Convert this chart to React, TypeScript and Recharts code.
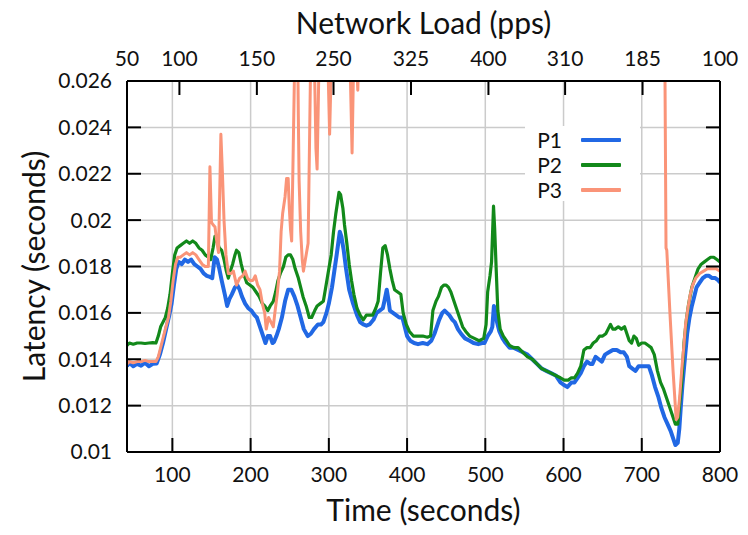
import { LineChart, Line, XAxis, YAxis, CartesianGrid, Legend } from 'recharts'

// [time (s), latency (s)]
const p1Latency: [number, number][] = [
  [42, 0.0137], [45, 0.01385], [50, 0.0137], [55, 0.0138], [60, 0.01372], [65, 0.01385], [70, 0.0137], [75, 0.0138],
  [80, 0.01382], [84, 0.0142], [88, 0.0147], [92, 0.0153], [96, 0.0159], [99, 0.0164], [102, 0.0172], [105, 0.0179],
  [108, 0.0182], [112, 0.0181], [116, 0.0183], [120, 0.0182], [124, 0.0183], [128, 0.0181], [132, 0.018], [136, 0.0179],
  [140, 0.0177], [144, 0.0176], [148, 0.01755], [151, 0.0175], [154, 0.0184], [157, 0.0183], [160, 0.0179], [163, 0.0174],
  [167, 0.0168], [170, 0.0163], [173, 0.0166], [176, 0.0168], [180, 0.0171], [183, 0.0172], [186, 0.017], [189, 0.0167],
  [193, 0.0164], [197, 0.0162], [201, 0.0161], [205, 0.0159], [208, 0.0158], [212, 0.0154], [216, 0.015], [219, 0.0147],
  [222, 0.015], [225, 0.015], [228, 0.0147], [230, 0.01475], [233, 0.015], [236, 0.0153], [240, 0.0158], [244, 0.0165],
  [248, 0.017], [252, 0.017], [256, 0.0167], [260, 0.0163], [264, 0.0158], [268, 0.0153], [273, 0.015], [277, 0.0151],
  [281, 0.0153], [286, 0.0155], [290, 0.0155], [293, 0.0156], [297, 0.016], [300, 0.0164], [304, 0.0171], [307, 0.0178],
  [310, 0.0185], [314, 0.0195], [316, 0.0193], [319, 0.0187], [322, 0.0179], [326, 0.017], [331, 0.0164], [336, 0.0159],
  [340, 0.0156], [344, 0.0155], [348, 0.01545], [352, 0.0155], [357, 0.0157], [361, 0.016], [365, 0.0161], [369, 0.0162],
  [371, 0.0165], [374, 0.017], [376, 0.0166], [378, 0.0161], [382, 0.016], [386, 0.0159], [390, 0.0158], [394, 0.0158],
  [397, 0.0154], [400, 0.015], [404, 0.0148], [409, 0.0147], [414, 0.01465], [420, 0.0147], [426, 0.01465], [431, 0.0148],
  [435, 0.0151], [438, 0.0154], [441, 0.0157], [445, 0.016], [448, 0.0161], [451, 0.016], [454, 0.0159], [458, 0.0157],
  [461, 0.0156], [465, 0.0153], [469, 0.0151], [474, 0.0149], [480, 0.0148], [485, 0.0147], [491, 0.01465], [496, 0.0147],
  [499, 0.0147], [503, 0.015], [507, 0.0152], [509, 0.0154], [511, 0.0163], [513, 0.016], [515, 0.0156], [518, 0.0152],
  [522, 0.0149], [526, 0.0147], [531, 0.0145], [536, 0.0145], [542, 0.0144], [548, 0.0143], [554, 0.0142], [560, 0.014],
  [566, 0.0138], [572, 0.0136], [578, 0.0135], [584, 0.0134], [590, 0.0133], [596, 0.013], [600, 0.0129], [605, 0.0128],
  [610, 0.013], [614, 0.013], [618, 0.0132], [622, 0.0134], [626, 0.0137], [630, 0.0139], [634, 0.0138], [637, 0.0138],
  [641, 0.0141], [645, 0.014], [649, 0.0139], [653, 0.0142], [658, 0.0143], [663, 0.0144], [668, 0.0144], [673, 0.0143],
  [677, 0.0143], [681, 0.0141], [684, 0.0137], [688, 0.0136], [692, 0.0135], [696, 0.0137], [700, 0.0137], [705, 0.0137],
  [709, 0.0137], [713, 0.0133], [717, 0.0128], [721, 0.0124], [725, 0.0119], [729, 0.0115], [733, 0.0112], [737, 0.0109],
  [740, 0.0106], [743, 0.0103], [746, 0.0104], [748, 0.011], [750, 0.012], [752, 0.0129], [755, 0.014], [758, 0.0151],
  [761, 0.0158], [764, 0.0163], [767, 0.0167], [770, 0.0171], [774, 0.0173], [778, 0.0175], [782, 0.0176], [786, 0.0176],
  [790, 0.0175], [794, 0.0175], [798, 0.0174], [800, 0.0173],
]

const p2Latency: [number, number][] = [
  [42, 0.0146], [45, 0.0147], [50, 0.01465], [55, 0.0147], [60, 0.0147], [65, 0.01468], [70, 0.0147], [75, 0.01472],
  [79, 0.0147], [82, 0.015], [85, 0.0154], [88, 0.0156], [91, 0.0158], [94, 0.0162], [97, 0.0168], [100, 0.0177],
  [103, 0.0185], [106, 0.0188], [110, 0.0189], [114, 0.019], [118, 0.0191], [122, 0.019], [126, 0.0191], [130, 0.019],
  [134, 0.0188], [138, 0.0187], [142, 0.0185], [146, 0.0184], [149, 0.0183], [152, 0.0188], [154.5, 0.0193], [157, 0.0191],
  [160, 0.0188], [163, 0.0187], [166, 0.0183], [169, 0.0178], [171.5, 0.0175], [174, 0.0178], [177, 0.0181], [180, 0.0185],
  [182, 0.0187], [185, 0.0186], [188, 0.0181], [191, 0.0177], [195, 0.0173], [199, 0.0172], [203, 0.0171], [207, 0.0169],
  [211, 0.0167], [215, 0.0164], [218, 0.0163], [222, 0.0161], [225, 0.0163], [229, 0.0165], [232, 0.0169], [235, 0.0174],
  [238, 0.0177], [242, 0.018], [245, 0.0184], [248, 0.0185], [251, 0.0185], [254, 0.0183], [257, 0.0179], [261, 0.0175],
  [264, 0.0171], [267, 0.0167], [271, 0.0163], [275, 0.0158], [278, 0.0158], [282, 0.0161], [285, 0.0163], [289, 0.0164],
  [293, 0.0165], [297, 0.0173], [300, 0.0179], [303, 0.0185], [306, 0.0195], [309, 0.0203], [313, 0.0212], [315, 0.0211],
  [318, 0.0205], [320, 0.0198], [323, 0.019], [326, 0.0181], [329, 0.0174], [332, 0.0168], [336, 0.0162], [340, 0.0159],
  [344, 0.0157], [348, 0.0159], [352, 0.0159], [356, 0.0159], [360, 0.0162], [363, 0.0165], [366, 0.0177], [369, 0.0188],
  [372, 0.0189], [375, 0.0185], [378, 0.0179], [381, 0.0174], [384, 0.017], [388, 0.0169], [392, 0.0168], [395, 0.016],
  [399, 0.0155], [403, 0.0152], [408, 0.015], [414, 0.015], [420, 0.015], [426, 0.01495], [430, 0.015], [433, 0.0161],
  [437, 0.0165], [440, 0.0167], [444, 0.0171], [447, 0.0172], [450, 0.0172], [453, 0.0171], [456, 0.0169], [459, 0.0166],
  [463, 0.0162], [467, 0.0158], [471, 0.0154], [475, 0.0152], [480, 0.015], [486, 0.0149], [492, 0.0148], [498, 0.0149],
  [501, 0.0155], [503, 0.0169], [506, 0.0176], [508, 0.0182], [510.5, 0.0206], [512, 0.0196], [514, 0.0178], [516, 0.0161],
  [519, 0.0153], [523, 0.015], [527, 0.0148], [531, 0.0146], [536, 0.0145], [542, 0.0145], [548, 0.0143], [554, 0.0141],
  [560, 0.014], [566, 0.0138], [572, 0.0136], [578, 0.0135], [584, 0.0134], [590, 0.0133], [596, 0.0132], [601, 0.0131],
  [606, 0.0131], [610, 0.0132], [614, 0.0132], [618, 0.0134], [622, 0.0137], [626, 0.0144], [630, 0.0145], [634, 0.0145],
  [638, 0.0147], [642, 0.0148], [646, 0.015], [650, 0.015], [654, 0.0151], [657, 0.0153], [660, 0.0155], [663, 0.0153],
  [666, 0.0153], [670, 0.0154], [674, 0.0153], [678, 0.0154], [681, 0.0151], [684, 0.0148], [687, 0.0147], [690, 0.015],
  [693, 0.0149], [696, 0.0146], [700, 0.0147], [704, 0.0147], [708, 0.0146], [712, 0.0145], [716, 0.0142], [720, 0.0135],
  [724, 0.013], [728, 0.0127], [732, 0.0123], [736, 0.0119], [740, 0.0115], [743, 0.0112], [746, 0.0112], [748, 0.0119],
  [751, 0.013], [754, 0.0147], [757, 0.0157], [760, 0.0164], [764, 0.0171], [768, 0.0175], [772, 0.0179], [776, 0.0181],
  [780, 0.0182], [784, 0.0183], [788, 0.0184], [792, 0.0184], [796, 0.0183], [800, 0.0182],
]

// P3 runs above the top of the plot for most of 290-730 s
const p3Latency: [number, number][] = [
  [42, 0.0138], [45, 0.0139], [50, 0.01385], [55, 0.0139], [60, 0.0139], [65, 0.01395], [70, 0.0139], [75, 0.0139],
  [79, 0.0139], [82, 0.0141], [85, 0.0145], [88, 0.0149], [91, 0.0153], [95, 0.0158], [98, 0.0165], [101, 0.0174],
  [104, 0.0181], [107, 0.0184], [110, 0.0184], [114, 0.0185], [118, 0.0186], [122, 0.0185], [126, 0.0186], [130, 0.0185],
  [134, 0.0183], [138, 0.0181], [142, 0.018], [146, 0.018], [148, 0.0223], [150, 0.0199], [152, 0.0198], [154.5, 0.0197],
  [157, 0.019], [159, 0.0186], [162, 0.0237], [164, 0.022], [166, 0.02], [168.5, 0.0185], [171.5, 0.0177], [175, 0.0177],
  [178, 0.0178], [182, 0.0172], [186, 0.0175], [190, 0.0176], [193, 0.0178], [196, 0.0175], [199, 0.0174], [203, 0.0174],
  [206, 0.0176], [209, 0.0172], [212, 0.017], [215, 0.0164], [218, 0.016], [220, 0.0153], [223, 0.0158], [226, 0.0156],
  [229, 0.0154], [231, 0.016], [234, 0.0168], [237, 0.0178], [239, 0.0195], [241, 0.0203], [244, 0.021], [246, 0.0218],
  [248, 0.0218], [249.5, 0.0205], [251, 0.0196], [252.5, 0.0191], [254.5, 0.0231], [256, 0.0262], [258, 0.028],
  [260, 0.028], [261, 0.0245], [262, 0.0217], [264, 0.0195], [266, 0.0183], [267.5, 0.0178], [270, 0.0183],
  [273.5, 0.019], [275.5, 0.0238], [277, 0.0275], [280, 0.028], [282, 0.026], [283.5, 0.0231], [285, 0.0222],
  [286.5, 0.025], [288, 0.028], [291, 0.03], [295, 0.03], [299, 0.0265], [301, 0.0237], [303, 0.0265], [306, 0.03],
  [312, 0.03], [318, 0.03], [324, 0.03], [327, 0.027], [329.7, 0.0229], [331.5, 0.0265], [334, 0.028], [337, 0.0256],
  [339, 0.028], [345, 0.03], [400, 0.03], [500, 0.03], [600, 0.03], [700, 0.03], [729, 0.03], [731, 0.0188],
  [732, 0.0187], [736, 0.016], [740, 0.0135], [744, 0.0114], [746, 0.0115], [748.5, 0.0124], [751, 0.0135],
  [753.6, 0.0145], [756, 0.0155], [759, 0.0162], [762, 0.0168], [765, 0.0172], [769, 0.0175], [774, 0.0177],
  [779, 0.0178], [784, 0.0179], [790, 0.0179], [795, 0.0179], [800, 0.0178],
]

const timeTicks = [100, 200, 300, 400, 500, 600, 700, 800]
const latencyTicks = [0.01, 0.012, 0.014, 0.016, 0.018, 0.02, 0.022, 0.024, 0.026]
// the network-load axis on top sits at these times
const loadTickTimes = [42, 109, 208, 306, 405, 504, 602, 701, 800]
const loadTickLabels = ['50', '100', '150', '250', '325', '400', '310', '185', '100']

const series = [
  { name: 'P1', color: '#2168e4', width: 4, points: p1Latency },
  { name: 'P2', color: '#12891a', width: 3.2, points: p2Latency },
  { name: 'P3', color: '#fa9478', width: 3, points: p3Latency },
]

const toRows = (pts: [number, number][]) => pts.map(([t, v]) => ({ t, v }))
const fmtLatency = (v: number) => String(Number(v.toFixed(3)))
const fmtLoad = (v: number) => loadTickLabels[loadTickTimes.indexOf(v)] ?? ''

const ink = '#111'
const tickFont = { fill: ink, fontSize: 21 }
const axisStroke = { stroke: '#000', strokeWidth: 2 }

function KeyBox() {
  return (
    <div style={{ background: '#fff', width: 115, height: 75, paddingTop: 1, boxSizing: 'border-box' }}>
      {series.map(s => (
        <div key={s.name} style={{ display: 'flex', alignItems: 'center', height: 25 }}>
          <span style={{ width: 37, textAlign: 'right', fontSize: 21, lineHeight: '21px', color: ink }}>{s.name}</span>
          <span style={{ width: 40, height: 4, marginLeft: 19, background: s.color, borderRadius: 1 }} />
        </div>
      ))}
    </div>
  )
}

export default function App() {
  return (
    <div style={{ width: 748, height: 535, fontFamily: 'Lato, sans-serif', background: '#fff' }}>
      <style>{'body { margin: 0; }'}</style>
      <LineChart width={748} height={535} margin={{ top: 0, right: 0, bottom: 0, left: 0 }}>
        <CartesianGrid xAxisId="bottom" yAxisId="left" stroke="#cbcbcb" strokeWidth={1.5} />

        <XAxis
          xAxisId="bottom" dataKey="t" type="number" domain={[42, 800]} ticks={timeTicks}
          allowDataOverflow interval={0} height={83}
          tickSize={-14} tickMargin={29} tick={tickFont} tickLine={axisStroke} axisLine={axisStroke}
          label={{ value: 'Time (seconds)', position: 'insideBottom', offset: 14, fontSize: 30, fill: ink }}
        />
        <XAxis
          xAxisId="top" orientation="top" dataKey="t" type="number" domain={[42, 800]} ticks={loadTickTimes}
          allowDataOverflow interval={0} height={81} tickFormatter={fmtLoad}
          tickSize={-14} tickMargin={29} tick={tickFont} tickLine={axisStroke} axisLine={axisStroke}
          label={{ value: 'Network Load (pps)', position: 'insideTop', offset: 13, fontSize: 30, fill: ink }}
        />
        <YAxis
          yAxisId="left" type="number" domain={[0.01, 0.026]} ticks={latencyTicks}
          allowDataOverflow interval={0} width={127} tickFormatter={fmtLatency}
          tickSize={-14} tickMargin={29} tick={tickFont} tickLine={axisStroke} axisLine={axisStroke}
          label={{
            value: 'Latency (seconds)', angle: -90, position: 'insideLeft', offset: 34,
            fontSize: 30, fill: ink, style: { textAnchor: 'middle' },
          }}
        />
        <YAxis
          yAxisId="right" orientation="right" type="number" domain={[0.01, 0.026]} ticks={latencyTicks}
          allowDataOverflow interval={0} width={28} tickFormatter={() => ''}
          tickSize={-14} tickMargin={4} tick={tickFont} tickLine={axisStroke} axisLine={axisStroke}
        />

        <Legend
          layout="vertical" align="center" verticalAlign="middle"
          content={<KeyBox />}
          wrapperStyle={{ left: 525, top: 126, width: 115, height: 75 }}
        />

        {series.map((s, i) => (
          <Line
            key={s.name}
            name={s.name}
            data={toRows(s.points)}
            dataKey="v"
            xAxisId={i === 1 ? 'top' : 'bottom'}
            yAxisId={i === 1 ? 'right' : 'left'}
            type="linear"
            stroke={s.color}
            strokeWidth={s.width}
            strokeLinejoin="round"
            dot={false}
            activeDot={false}
            isAnimationActive={false}
          />
        ))}
      </LineChart>
    </div>
  )
}
